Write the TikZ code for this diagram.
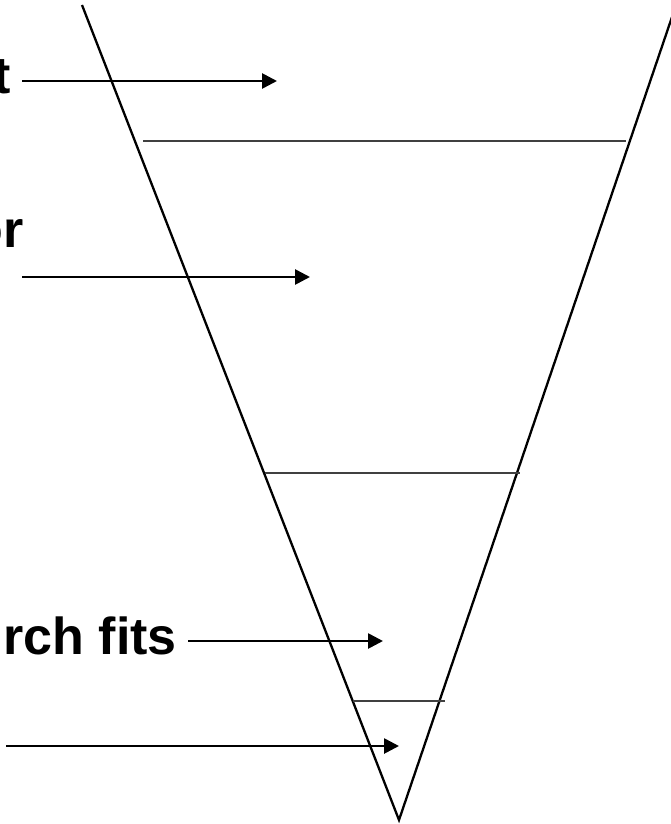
\documentclass[tikz,border=0pt]{standalone}
\usepackage{fontspec}
\setmainfont{Liberation Sans}
\usetikzlibrary{arrows.meta}
\begin{document}
\begin{tikzpicture}[
	x=1pt, y=-1pt,
	funnel/.style={draw, line width=2.3pt},
	level/.style={draw=black!75, line width=1.3pt},
	arr/.style={draw, line width=2.7pt, -{Triangle[length=15pt, width=15pt]}},
	lbl/.style={font=\fontsize{52}{60}\selectfont\bfseries, inner xsep=11pt, inner ysep=0pt, text height=26pt, text depth=0pt, anchor=east}
	]
	\useasboundingbox (0,0) rectangle (671,824);
	\coordinate (lefttop) at (82,5);
	\coordinate (righttop) at (672,17);
	\coordinate (apex) at (399,820);
	\draw[funnel] (lefttop) -- (apex) -- (righttop);
	\coordinate (l1a) at (143,141); \coordinate (l1b) at (626,141);
	\coordinate (l2a) at (265,473); \coordinate (l2b) at (520,473);
	\coordinate (l3a) at (353,701); \coordinate (l3b) at (445,701);
	\draw[level] (l1a) -- (l1b);
	\draw[level] (l2a) -- (l2b);
	\draw[level] (l3a) -- (l3b);
	\node[lbl] (toplbl) at (22,81) {t};
	\node[lbl] (orlbl) at (35,234) {or};
	\node[lbl] (fitslbl) at (188,641) {rch fits};
	\coordinate (topend) at (277,81);
	\coordinate (orstart) at (22,277); \coordinate (orend) at (310,277);
	\coordinate (fitsend) at (383,641);
	\coordinate (lowstart) at (6,746); \coordinate (lowend) at (399,746);
	\draw[arr] (toplbl.east) -- (topend);
	\draw[arr] (orstart) -- (orend);
	\draw[arr] (fitslbl.east) -- (fitsend);
	\draw[arr] (lowstart) -- (lowend);
\end{tikzpicture}
\end{document}
